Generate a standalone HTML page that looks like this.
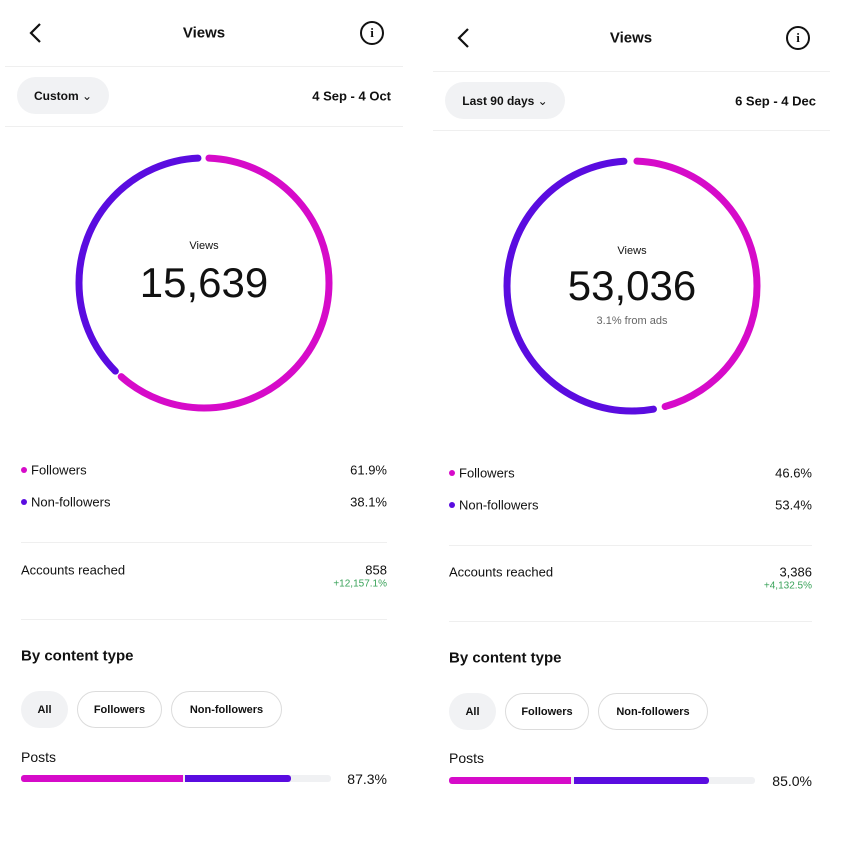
<!DOCTYPE html>
<html><head><meta charset="utf-8"><style>
body{margin:0;width:856px;height:848px;background:#fff;position:relative;overflow:hidden;font-family:"Liberation Sans",Arial,sans-serif;color:#111}
.a{position:absolute;white-space:nowrap}
.c{transform:translate(-50%,-50%)}
.r{transform:translate(-100%,-50%)}
.l{transform:translateY(-50%)}
.hr{position:absolute;height:1px;background:#efefef}
.pill{position:absolute;border-radius:20px;font-size:12px;font-weight:bold;display:flex;align-items:center;justify-content:center;box-sizing:border-box}
.g{background:#f1f2f4}
.o{border:1px solid #dcdcdc;background:#fff}
.dot{position:absolute;width:6px;height:6px;border-radius:50%}
</style></head><body>
<svg class="a" style="left:0;top:0" width="856" height="848">
<path d="M40 24 L31 33 L40 42" fill="none" stroke="#111" stroke-width="2.2"/>
<circle cx="372" cy="33" r="11" fill="none" stroke="#111" stroke-width="2"/>
<path d="M468 29 L459 38 L468 47" fill="none" stroke="#111" stroke-width="2.2"/>
<circle cx="798" cy="38" r="11" fill="none" stroke="#111" stroke-width="2"/>
<g transform="rotate(-90 204 283)" fill="none" stroke-width="7" stroke-linecap="round">
<circle cx="204" cy="283" r="125" stroke="#d60bc9" stroke-dasharray="478 1000" stroke-dashoffset="-5"/>
<circle cx="204" cy="283" r="125" stroke="#5a0ce0" stroke-dasharray="288 1000" stroke-dashoffset="-491"/>
</g>
<g transform="rotate(-90 632 286)" fill="none" stroke-width="7" stroke-linecap="round">
<circle cx="632" cy="286" r="125" stroke="#d60bc9" stroke-dasharray="354 1000" stroke-dashoffset="-5"/>
<circle cx="632" cy="286" r="125" stroke="#5a0ce0" stroke-dasharray="406 1000" stroke-dashoffset="-371"/>
</g>
</svg>
<div class="a c" style="left:372px;top:33px;font-size:13px;font-weight:bold;font-family:'Liberation Serif',serif">i</div>
<div class="a c" style="left:798px;top:38px;font-size:13px;font-weight:bold;font-family:'Liberation Serif',serif">i</div>

<!-- Left -->
<div class="a c" style="left:204px;top:33px;font-size:15px;font-weight:bold">Views</div>
<div class="hr" style="left:5px;width:398px;top:66px"></div>
<div class="pill g" style="left:17px;top:77px;width:92px;height:37px">Custom&nbsp;<span style="font-weight:normal">⌄</span></div>
<div class="a r" style="left:391px;top:96px;font-size:13px;font-weight:bold">4 Sep - 4 Oct</div>
<div class="hr" style="left:5px;width:398px;top:126px"></div>
<div class="a c" style="left:204px;top:246px;font-size:11px">Views</div>
<div class="a c" style="left:204px;top:283px;font-size:42px">15,639</div>
<div class="dot" style="left:21px;top:467px;background:#d60bc9"></div>
<div class="a l" style="left:31px;top:470px;font-size:13px">Followers</div>
<div class="a r" style="left:387px;top:470px;font-size:13px">61.9%</div>
<div class="dot" style="left:21px;top:499px;background:#5a0ce0"></div>
<div class="a l" style="left:31px;top:502px;font-size:13px">Non-followers</div>
<div class="a r" style="left:387px;top:502px;font-size:13px">38.1%</div>
<div class="hr" style="left:21px;width:366px;top:542px"></div>
<div class="a l" style="left:21px;top:570px;font-size:13px">Accounts reached</div>
<div class="a r" style="left:387px;top:570px;font-size:13px">858</div>
<div class="a r" style="left:387px;top:584px;font-size:10px;color:#3aa35a">+12,157.1%</div>
<div class="hr" style="left:21px;width:366px;top:619px"></div>
<div class="a l" style="left:21px;top:656px;font-size:15px;font-weight:bold">By content type</div>
<div class="pill g" style="left:21px;top:691px;width:47px;height:37px;font-size:11px">All</div>
<div class="pill o" style="left:77px;top:691px;width:85px;height:37px;font-size:11px">Followers</div>
<div class="pill o" style="left:171px;top:691px;width:111px;height:37px;font-size:11px">Non-followers</div>
<div class="a l" style="left:21px;top:757px;font-size:14px">Posts</div>
<div class="a" style="left:21px;top:775px;width:310px;height:7px;background:#f0f1f3;border-radius:3px"></div>
<div class="a" style="left:21px;top:775px;width:162px;height:7px;background:#d60bc9;border-radius:3px 0 0 3px"></div>
<div class="a" style="left:185px;top:775px;width:106px;height:7px;background:#5a0ce0;border-radius:0 3px 3px 0"></div>
<div class="a r" style="left:387px;top:779px;font-size:14px">87.3%</div>

<!-- Right -->
<div class="a c" style="left:631px;top:38px;font-size:15px;font-weight:bold">Views</div>
<div class="hr" style="left:433px;width:397px;top:71px"></div>
<div class="pill g" style="left:445px;top:82px;width:120px;height:37px">Last 90 days&nbsp;<span style="font-weight:normal">⌄</span></div>
<div class="a r" style="left:816px;top:101px;font-size:13px;font-weight:bold">6 Sep - 4 Dec</div>
<div class="hr" style="left:433px;width:397px;top:130px"></div>
<div class="a c" style="left:632px;top:251px;font-size:11px">Views</div>
<div class="a c" style="left:632px;top:286px;font-size:42px">53,036</div>
<div class="a c" style="left:632px;top:321px;font-size:11px;color:#666">3.1% from ads</div>
<div class="dot" style="left:449px;top:470px;background:#d60bc9"></div>
<div class="a l" style="left:459px;top:473px;font-size:13px">Followers</div>
<div class="a r" style="left:812px;top:473px;font-size:13px">46.6%</div>
<div class="dot" style="left:449px;top:502px;background:#5a0ce0"></div>
<div class="a l" style="left:459px;top:505px;font-size:13px">Non-followers</div>
<div class="a r" style="left:812px;top:505px;font-size:13px">53.4%</div>
<div class="hr" style="left:449px;width:363px;top:545px"></div>
<div class="a l" style="left:449px;top:572px;font-size:13px">Accounts reached</div>
<div class="a r" style="left:812px;top:572px;font-size:13px">3,386</div>
<div class="a r" style="left:812px;top:586px;font-size:10px;color:#3aa35a">+4,132.5%</div>
<div class="hr" style="left:449px;width:363px;top:621px"></div>
<div class="a l" style="left:449px;top:658px;font-size:15px;font-weight:bold">By content type</div>
<div class="pill g" style="left:449px;top:693px;width:47px;height:37px;font-size:11px">All</div>
<div class="pill o" style="left:505px;top:693px;width:84px;height:37px;font-size:11px">Followers</div>
<div class="pill o" style="left:598px;top:693px;width:110px;height:37px;font-size:11px">Non-followers</div>
<div class="a l" style="left:449px;top:758px;font-size:14px">Posts</div>
<div class="a" style="left:449px;top:777px;width:306px;height:7px;background:#f0f1f3;border-radius:3px"></div>
<div class="a" style="left:449px;top:777px;width:122px;height:7px;background:#d60bc9;border-radius:3px 0 0 3px"></div>
<div class="a" style="left:574px;top:777px;width:135px;height:7px;background:#5a0ce0;border-radius:0 3px 3px 0"></div>
<div class="a r" style="left:812px;top:781px;font-size:14px">85.0%</div>
</body></html>
